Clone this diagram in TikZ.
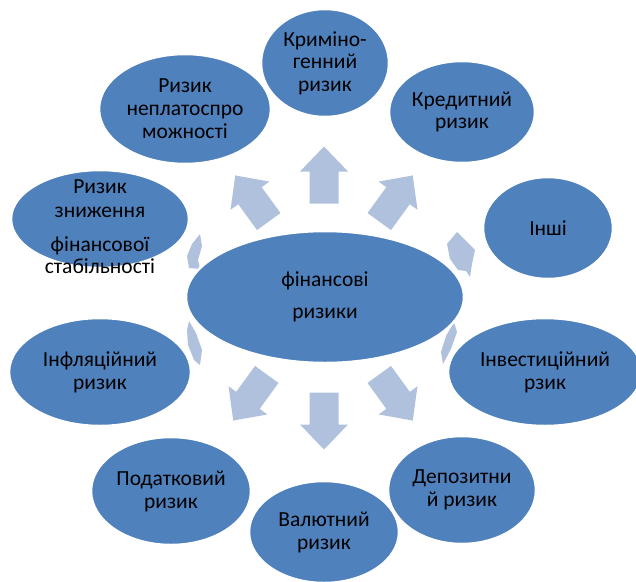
\documentclass[tikz,border=0pt]{standalone}
\usepackage{fontspec}
\setmainfont{Carlito}
\usetikzlibrary{shapes.geometric}
\definecolor{ellblue}{RGB}{79,129,189}
\definecolor{arrblue}{RGB}{176,193,222}
\begin{document}
\begin{tikzpicture}[x=1pt,y=-1pt,
  sat/.style={ellipse, fill=ellblue, draw=white, line width=2.5pt, inner sep=0pt,
    align=center, text=black, font=\fontsize{21.5}{23}\selectfont},
  lbl/.style={align=center, text=black, inner sep=0pt, font=\fontsize{21.5}{23}\selectfont},
  sliver/.style={fill=arrblue},
  barrow/.pic={\fill[arrblue] (-28.5,-14.5) -- (3.5,-14.5) -- (3.5,-24) -- (28.5,0)
     -- (3.5,24) -- (3.5,14.5) -- (-28.5,14.5) -- cycle;}
]
\useasboundingbox (0,0) rectangle (636,581);
% block arrows (behind the ellipses)
\pic (a1) [rotate=90]   at (324,175)   {barrow};
\pic (a2) [rotate=54]   at (396,198.5) {barrow};
\pic (a5) [rotate=-54]  at (396,397.5) {barrow};
\pic (a6) [rotate=-90]  at (324,421)   {barrow};
\pic (a7) [rotate=-126] at (250,397.5) {barrow};
\pic (a10) [rotate=126] at (252,198.5) {barrow};
% partly hidden arrows at the sides
\fill[sliver] (457,232) -- (475,250) -- (472,264) -- (470,277) -- (466,271)
   -- (458,270) -- (450,259) -- (447,244) -- cycle;
\fill[sliver] (454,322) -- (457,332) -- (451,349) -- (443,364) -- (441,352)
   -- (446,336) -- cycle;
\fill[sliver] (200,234) -- (202,246) -- (198,260) -- (200,269) -- (189,268)
   -- (187,256) -- (192,244) -- cycle;
\fill[sliver] (189,321) -- (196,333) -- (202,350) -- (200,365) -- (194,360)
   -- (188,345) -- (187,330) -- cycle;
% centre
\node[sat, minimum width=278, minimum height=132] (c) at (325,297) {фінансові\\[9pt]ризики};
% satellites
\node[sat, minimum width=128, minimum height=108] (s1) at (325,63)  {Криміно-\\[-1pt]генний\\ризик};
\node[sat, minimum width=172, minimum height=110] (s2) at (185,109) {Ризик\\неплатоспро\\можності};
\node[sat, minimum width=146, minimum height=102] (s3) at (462,112) {Кредитний\\[-1pt]ризик};
\node[sat, minimum width=130, minimum height=102] (s4) at (548,228) {Інші};
\node[sat, minimum width=178, minimum height=98]  (s5) at (100,219) {};
\node[lbl] (s5t) at (100,227) {Ризик\\[1pt]зниження\\[11pt]фінансової\\[-1pt]стабільності};
\node[sat, minimum width=182, minimum height=108] (s6) at (100,372) {Інфляційний\\ризик};
\node[sat, minimum width=194, minimum height=108] (s7) at (545,372) {Інвестиційний\\рзик};
\node[sat, minimum width=160, minimum height=108] (s8) at (171,491) {Податковий\\ризик};
\node[sat, minimum width=148, minimum height=108] (s9) at (462,490) {Депозитни\\й ризик};
\node[sat, minimum width=150, minimum height=102] (s10) at (324,532) {Валютний\\ризик};
\end{tikzpicture}
\end{document}
